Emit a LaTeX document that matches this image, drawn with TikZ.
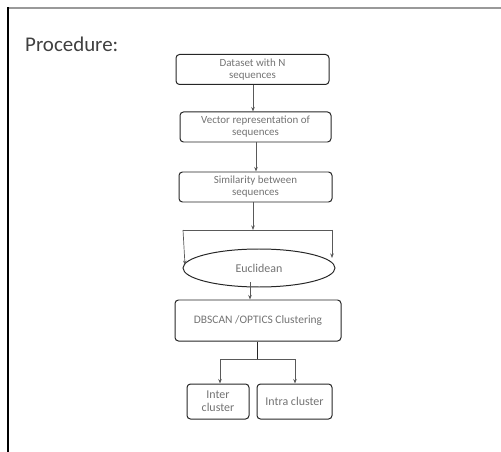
\documentclass[tikz,border=0pt]{standalone}
\usepackage{fontspec}
\setmainfont{Carlito}
\usetikzlibrary{arrows.meta,shapes.geometric}
\definecolor{txtgray}{gray}{0.45}
\definecolor{linegray}{gray}{0.35}
\tikzset{
  procbox/.style={draw=black!85, line width=1pt, rounded corners=3.5bp, inner sep=0pt,
    font=\fontsize{11}{13}\selectfont, text=txtgray, align=center},
  conn/.style={draw=linegray, line width=0.7pt},
  arr/.style={conn, -{Stealth[length=4.5bp,width=3.5bp]}}
}
\begin{document}
\begin{tikzpicture}[x=1bp,y=-1bp]
\useasboundingbox (0,0) rectangle (501,452);
% frame
\draw[line width=1.4bp, draw=black!40] (8,8) -- (501,8);
\draw[line width=2bp, draw=black] (8,7.3) -- (8,452);
% title
\node[anchor=west, font=\fontsize{21}{24}\selectfont, text=black!75, inner sep=0pt] (title) at (25,44) {Procedure:};
% boxes
\node[procbox, minimum width=153bp, minimum height=30bp] (b1) at (252.5,69.5) {Dataset with N\\[-1pt] sequences};
\node[procbox, minimum width=151bp, minimum height=30bp] (b2) at (255.5,127) {Vector representation of\\[-1pt] sequences};
\node[procbox, minimum width=153bp, minimum height=30bp] (b3) at (255.5,187) {Similarity between\\[-1pt] sequences};
\node[ellipse, draw=black!85, line width=1pt, minimum width=152bp, minimum height=38bp, inner sep=0pt,
  font=\fontsize{12}{14}\selectfont, text=txtgray] (ell) at (259,268) {Euclidean};
\node[procbox, minimum width=166bp, minimum height=41bp, font=\fontsize{11.5}{14}\selectfont] (dbs) at (258,320.5) {DBSCAN /OPTICS Clustering};
\node[procbox, minimum width=62bp, minimum height=35bp, font=\fontsize{12}{14}\selectfont] (inter) at (218,401.5) {Inter\\[-1pt] cluster};
\node[procbox, minimum width=75bp, minimum height=35bp, font=\fontsize{12}{14}\selectfont] (intra) at (294.5,401.5) {Intra cluster};
% connectors
\draw[arr] (b1.south -| 253,0) -- (b2.north -| 253,0);
\draw[arr] (b2.south -| 256,0) -- (b3.north -| 256,0);
\coordinate (s1) at (253,230);
\coordinate (sl) at (183,230);
\coordinate (sr) at (332,230);
\coordinate (el) at (185,265);
\coordinate (er) at (332,258);
\draw[arr] (b3.south -| s1) -- (s1);
\draw[conn] (sl) -- (sr);
\draw[arr] (sl) -- (el);
\draw[arr] (sr) -- (er);
\coordinate (e1) at (250,282);
\draw[arr] (e1) -- (dbs.north -| e1);
\coordinate (d1) at (257,359);
\coordinate (dl) at (220,359);
\coordinate (dr) at (295,359);
\draw[conn, draw=black!85, line width=1pt] (dbs.south -| d1) -- (d1);
\draw[conn] (dl) -- (dr);
\draw[arr] (dl) -- (inter.north -| dl);
\draw[arr] (dr) -- (intra.north -| dr);
\end{tikzpicture}
\end{document}
